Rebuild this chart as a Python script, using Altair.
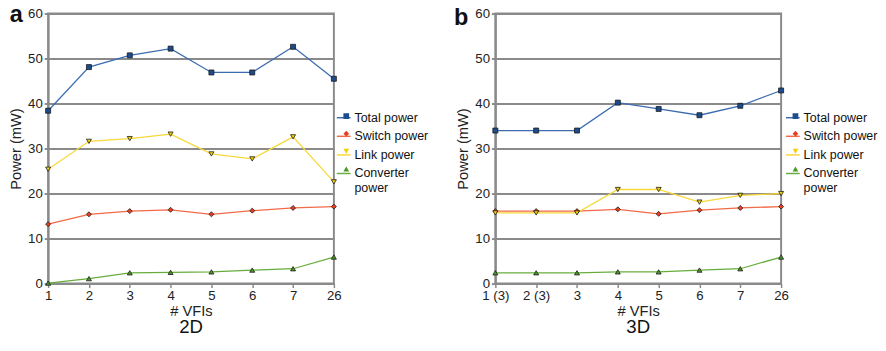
import altair as alt
import pandas as pd

# ---- data ----
series = ["Total power", "Switch power", "Link power", "Converter power"]

vfis_2d = ["1", "2", "3", "4", "5", "6", "7", "26"]
total_2d = [38.4, 48.1, 50.7, 52.2, 46.9, 46.9, 52.6, 45.5]
switch_2d = [13.2, 15.4, 16.1, 16.4, 15.4, 16.2, 16.8, 17.1]
link_2d = [25.4, 31.6, 32.2, 33.2, 28.8, 27.7, 32.6, 22.6]
conv_2d = [0.1, 1.1, 2.4, 2.5, 2.6, 3.0, 3.3, 5.9]

vfis_3d = ["1 (3)", "2 (3)", "3", "4", "5", "6", "7", "26"]
total_3d = [34.0, 34.0, 34.0, 40.2, 38.8, 37.4, 39.5, 42.9]
switch_3d = [16.1, 16.1, 16.1, 16.5, 15.5, 16.3, 16.8, 17.1]
link_3d = [15.7, 15.7, 15.7, 20.9, 20.9, 18.1, 19.6, 20.0]
conv_3d = [2.4, 2.4, 2.4, 2.6, 2.6, 3.0, 3.3, 5.9]

line_colors = ["#3b6cb0", "#f26a48", "#f8d83a", "#68ad3c"]
fill_colors = ["#1d4c8e", "#e8401e", "#f5cf0a", "#4a9a26"]
shapes = ["square", "diamond", "triangle-down", "triangle-up"]

FONT = "Liberation Sans"
GRID = "#8a8a8a"

# marker-legend keys differ (trailing space) so Vega-Lite keeps the two legends apart
series2 = [s + " " for s in series]


def make_df(vfis, vals_list):
    rows = []
    for s, s2, vals in zip(series, series2, vals_list):
        for v, y in zip(vfis, vals):
            rows.append({"VFIs": v, "Power": y, "Series": s, "S2": s2})
    return pd.DataFrame(rows)


label_expr = "indexof(datum.label, 'Converter') >= 0 ? ['Converter', 'power'] : datum.label"
# invisible placeholder labels for the marker legend (same row heights, tiny width)
dot_expr = "indexof(datum.label, 'Converter') >= 0 ? ['.', '.'] : '.'"


def panel(vfis, vals_list, letter, subtitle, lx, ly, letter_x, letter_y):
    df = make_df(vfis, vals_list)
    x = alt.X(
        "VFIs:O",
        sort=vfis,
        scale=alt.Scale(type="point", padding=0),
        axis=alt.Axis(
            title="# VFIs", labelAngle=0, labelFontSize=13.5, titleFontSize=15,
            titleFontWeight="normal", labelColor="#222", titleColor="#222",
            domainColor=GRID, domainWidth=2, tickColor=GRID, tickWidth=1.5,
            tickSize=4, labelPadding=1, titlePadding=2, labelFont=FONT, titleFont=FONT,
        ),
    )
    y = alt.Y(
        "Power:Q",
        scale=alt.Scale(domain=[0, 60], nice=False),
        axis=alt.Axis(
            title="Power (mW)", values=[0, 10, 20, 30, 40, 50, 60], labelFontSize=13.5,
            titleFontSize=15, titleFontWeight="normal", labelColor="#222",
            titleColor="#222", domainColor=GRID, domainWidth=2, gridColor=GRID,
            gridWidth=2, gridOpacity=1, tickColor=GRID, tickWidth=2, tickSize=4,
            labelPadding=2, titlePadding=4, labelFont=FONT, titleFont=FONT,
        ),
    )
    common_leg = dict(
        orient="none", legendY=ly, title=None, labelFontSize=12.7, labelFont=FONT,
        rowPadding=4, labelLimit=200, labelOffset=3,
    )
    lines = alt.Chart(df).mark_line(strokeWidth=1.3).encode(
        x=x, y=y,
        color=alt.Color(
            "Series:N",
            sort=series,
            scale=alt.Scale(domain=series, range=line_colors),
            legend=alt.Legend(
                legendX=lx, symbolType="stroke", symbolSize=196,
                symbolStrokeWidth=1.5, labelColor="#111", labelExpr=label_expr,
                **common_leg,
            ),
        ),
        detail="Series:N",
    )
    points = alt.Chart(df).mark_point(
        filled=True, size=26, stroke="#1a1a1a", strokeWidth=0.8, opacity=1
    ).encode(
        x=x, y=y,
        shape=alt.Shape(
            "S2:N", sort=series2,
            scale=alt.Scale(domain=series2, range=shapes),
            legend=alt.Legend(
                legendX=lx + 4.3, symbolSize=34, symbolStrokeColor="#1a1a1a",
                symbolStrokeWidth=0.8, labelOpacity=0, labelExpr=dot_expr,
                **common_leg,
            ),
        ),
        fill=alt.Fill(
            "S2:N", sort=series2,
            scale=alt.Scale(domain=series2, range=fill_colors),
        ),
    )
    letter_mark = alt.Chart(alt.Data(values=[{"t": letter}])).mark_text(
        fontSize=24, fontWeight="bold", font=FONT, align="center",
        baseline="alphabetic", color="#111",
    ).encode(text="t:N", x=alt.value(letter_x), y=alt.value(letter_y))

    return alt.layer(lines, points, letter_mark).properties(
        width=292, height=276,
        title=alt.TitleParams(subtitle, orient="bottom", fontSize=19,
                              fontWeight="normal", font=FONT, color="#111",
                              offset=0),
    )


pa = panel(vfis_2d, [total_2d, switch_2d, link_2d, conv_2d], "a", "2D",
           294, 98.5, -32.5, 9)
pb = panel(vfis_3d, [total_3d, switch_3d, link_3d, conv_3d], "b", "3D",
           296, 98.5, -35, 12)

chart = alt.hconcat(pa, pb, spacing=23).resolve_scale(
    color="independent", shape="independent", fill="independent"
).properties(
    padding={"left": -1, "top": -9, "right": -1, "bottom": -3}
).configure_view(
    stroke=GRID, strokeWidth=2
)

chart.save("out.html", embed_options={"renderer": "svg", "actions": False})
